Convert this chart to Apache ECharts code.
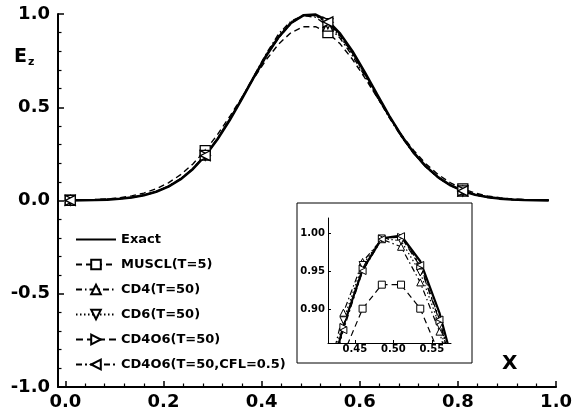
<!DOCTYPE html>
<html>
<head>
<meta charset="utf-8">
<script src="https://cdn.jsdelivr.net/npm/echarts@6/dist/echarts.min.js"></script>
<style>html,body{margin:0;padding:0;background:#fff}#c{width:575px;height:416px}</style>
</head>
<body>
<div id="c"></div>
<script>
// grid points (x)
var xGrid = [0.010,0.035,0.060,0.085,0.110,0.135,0.160,0.185,0.210,0.235,
             0.260,0.285,0.310,0.335,0.360,0.385,0.410,0.435,0.460,0.485,
             0.510,0.535,0.560,0.585,0.610,0.635,0.660,0.685,0.710,0.735,
             0.760,0.785,0.810,0.835,0.860,0.885,0.910,0.935,0.960,0.985];
var exactY = [0.0006,0.0013,0.0025,0.0049,0.0092,0.0164,0.0282,0.0468,0.0746,0.1145,
              0.1690,0.2401,0.3282,0.4317,0.5461,0.6650,0.7788,0.8777,0.9518,0.9931,
              0.9969,0.9629,0.8948,0.8001,0.6883,0.5698,0.4538,0.3478,0.2564,0.1819,
              0.1241,0.0815,0.0515,0.0313,0.0183,0.0103,0.0056,0.0029,0.0015,0.0007];
var musclY = [0.0013,0.0025,0.0047,0.0084,0.0146,0.0246,0.0399,0.0626,0.0948,0.1387,
              0.1962,0.2679,0.3535,0.4504,0.5544,0.6592,0.7571,0.8400,0.9003,0.9320,
              0.9320,0.9003,0.8400,0.7571,0.6592,0.5544,0.4504,0.3535,0.2679,0.1962,
              0.1387,0.0948,0.0626,0.0399,0.0246,0.0146,0.0084,0.0047,0.0025,0.0013];
var cd4Y   = [0.0006,0.0014,0.0026,0.0050,0.0094,0.0168,0.0290,0.0480,0.0765,0.1170,
              0.1720,0.2440,0.3330,0.4370,0.5520,0.6710,0.7900,0.8950,0.9620,0.9920,
              0.9820,0.9350,0.8700,0.7750,0.6690,0.5560,0.4440,0.3410,0.2520,0.1790,
              0.1225,0.0805,0.0510,0.0310,0.0182,0.0102,0.0055,0.0029,0.0015,0.0007];
var cd6Y   = [0.0006,0.0013,0.0025,0.0049,0.0093,0.0166,0.0286,0.0474,0.0755,0.1158,
              0.1705,0.2420,0.3305,0.4345,0.5490,0.6680,0.7850,0.8850,0.9580,0.9930,
              0.9900,0.9480,0.8780,0.7850,0.6770,0.5620,0.4480,0.3440,0.2540,0.1800,
              0.1230,0.0810,0.0512,0.0311,0.0182,0.0102,0.0055,0.0029,0.0015,0.0007];
var cd4o6Y = [0.0006,0.0013,0.0025,0.0049,0.0092,0.0165,0.0284,0.0470,0.0750,0.1150,
              0.1695,0.2405,0.3290,0.4325,0.5470,0.6660,0.7800,0.8760,0.9530,0.9930,
              0.9950,0.9560,0.8840,0.7900,0.6820,0.5660,0.4510,0.3460,0.2550,0.1810,
              0.1235,0.0812,0.0513,0.0312,0.0183,0.0103,0.0056,0.0029,0.0015,0.0007];
var cflY   = [0.0006,0.0013,0.0025,0.0049,0.0092,0.0164,0.0283,0.0469,0.0748,0.1148,
              0.1692,0.2402,0.3285,0.4320,0.5465,0.6655,0.7790,0.8720,0.9500,0.9920,
              0.9960,0.9580,0.8860,0.7920,0.6840,0.5670,0.4520,0.3470,0.2555,0.1815,
              0.1238,0.0813,0.0514,0.0313,0.0183,0.0103,0.0056,0.0029,0.0015,0.0007];
var markerIdx = [0, 11, 21, 32];
var xMajor = [0.0, 0.2, 0.4, 0.6, 0.8, 1.0];
var xMinor = [0.04,0.08,0.12,0.16,0.24,0.28,0.32,0.36,0.44,0.48,0.52,0.56,0.64,0.68,0.72,0.76,0.84,0.88,0.92,0.96];
var insetXTicks = [0.45, 0.50, 0.55];
var insetYTicks = [0.90, 0.95, 1.00];
var names = ['Exact','MUSCL(T=5)','CD4(T=50)','CD6(T=50)','CD4O6(T=50)','CD4O6(T=50,CFL=0.5)'];

var FONT = 'DejaVu Sans';
var triUp = 'path://M5,0 L10,9 L0,9 Z';
var triDown = 'path://M0,0 L10,0 L5,9 Z';
var triRight = 'path://M0,0 L9,5 L0,10 Z';
var triLeft = 'path://M9,0 L9,10 L0,5 Z';
var specs = [
  {name: names[0], y: exactY, sym: 'none', dash: 'solid', w: 2.6},
  {name: names[1], y: musclY, sym: 'rect', dash: [6,4], w: 1.4},
  {name: names[2], y: cd4Y, sym: triUp, dash: [6,3,1.5,3], w: 1.4},
  {name: names[3], y: cd6Y, sym: triDown, dash: [1.5,2.5], w: 1.4},
  {name: names[4], y: cd4o6Y, sym: triRight, dash: [7,4], w: 1.4},
  {name: names[5], y: cflY, sym: triLeft, dash: [6,3,2,3], w: 1.4}
];

function mainData(arr, sym) {
  return xGrid.map(function (x, i) {
    var on = sym !== 'none' && markerIdx.indexOf(i) >= 0;
    return {value: [x, arr[i]], symbol: on ? sym : 'none'};
  });
}
function insetData(arr) {
  return xGrid.map(function (x, i) { return [x, arr[i]]; });
}

var series = [];
specs.forEach(function (s) {
  var noSym = s.sym === 'none';
  series.push({
    name: s.name, type: 'line', xAxisIndex: 0, yAxisIndex: 0,
    data: mainData(s.y, s.sym),
    symbol: s.sym, symbolSize: 10, showSymbol: true, showAllSymbol: true,
    lineStyle: {color: '#000', width: s.w, type: s.dash},
    itemStyle: noSym ? {color: 'rgba(0,0,0,0)', borderColor: 'rgba(0,0,0,0)', borderWidth: 0}
                     : {color: '#fff', borderColor: '#000', borderWidth: 1.3},
    emphasis: {disabled: true}, animation: false, z: noSym ? 3 : 4
  });
});
specs.forEach(function (s) {
  series.push({
    name: s.name + ' inset', type: 'line', xAxisIndex: 2, yAxisIndex: 1,
    data: insetData(s.y),
    symbol: s.sym, symbolSize: 7, showSymbol: s.sym !== 'none', showAllSymbol: true,
    clip: true,
    lineStyle: {color: '#000', width: s.sym === 'none' ? 2.2 : 1.2, type: s.dash},
    itemStyle: {color: '#fff', borderColor: '#000', borderWidth: 1},
    emphasis: {disabled: true}, animation: false
  });
});

var chart = echarts.init(document.getElementById('c'), null, {renderer: 'canvas'});
chart.setOption({
  animation: false,
  backgroundColor: '#fff',
  grid: [
    {left: 58, right: 17, top: 14, bottom: 29},
    {left: 328, top: 218, width: 123, height: 125}
  ],
  xAxis: [
    {gridIndex: 0, type: 'value', min: -0.015, max: 1.0, position: 'bottom',
     axisLine: {show: true, onZero: false, lineStyle: {color: '#000', width: 2}},
     axisTick: {show: true, inside: true, length: 6, customValues: xMajor, lineStyle: {color: '#000', width: 1.5}},
     axisLabel: {show: true, customValues: xMajor, margin: 6, color: '#000', fontFamily: FONT, fontWeight: 'bold', fontSize: 18,
                 formatter: function (v) { return v.toFixed(1); }},
     splitLine: {show: false}},
    {gridIndex: 0, type: 'value', min: -0.015, max: 1.0, position: 'bottom',
     axisLine: {show: false, onZero: false},
     axisTick: {show: true, inside: true, length: 3.5, customValues: xMinor, lineStyle: {color: '#000', width: 1.2}},
     axisLabel: {show: false}, splitLine: {show: false}},
    {gridIndex: 1, type: 'value', min: 0.415, max: 0.575, position: 'bottom',
     axisLine: {show: true, onZero: false, lineStyle: {color: '#000', width: 1}},
     axisTick: {show: true, inside: true, length: 3, customValues: insetXTicks, lineStyle: {color: '#000', width: 1}},
     axisLabel: {show: true, customValues: insetXTicks, margin: 1, color: '#000', fontFamily: FONT, fontWeight: 'bold', fontSize: 10,
                 formatter: function (v) { return v.toFixed(2); }},
     splitLine: {show: false}}
  ],
  yAxis: [
    {gridIndex: 0, type: 'value', min: -1, max: 1, interval: 0.5,
     axisLine: {show: true, onZero: false, lineStyle: {color: '#000', width: 2}},
     axisTick: {show: true, inside: true, length: 6, lineStyle: {color: '#000', width: 1.5}},
     minorTick: {show: true, splitNumber: 5, length: 3.5, lineStyle: {color: '#000', width: 1.2}},
     axisLabel: {margin: 8, color: '#000', fontFamily: FONT, fontWeight: 'bold', fontSize: 18,
                 formatter: function (v) { return v.toFixed(1); }},
     splitLine: {show: false}},
    {gridIndex: 1, type: 'value', min: 0.855, max: 1.02,
     axisLine: {show: true, onZero: false, lineStyle: {color: '#000', width: 1}},
     axisTick: {show: true, inside: true, length: 3, customValues: insetYTicks, lineStyle: {color: '#000', width: 1}},
     axisLabel: {show: true, customValues: insetYTicks, margin: 3, color: '#000', fontFamily: FONT, fontWeight: 'bold', fontSize: 10,
                 formatter: function (v) { return v.toFixed(2); }},
     splitLine: {show: false}}
  ],
  legend: {
    orient: 'vertical', left: 70, top: 228, itemWidth: 40, itemHeight: 12, itemGap: 12,
    data: names, selectedMode: false,
    textStyle: {color: '#000', fontFamily: FONT, fontWeight: 'bold', fontSize: 13}
  },
  graphic: [
    {type: 'rect', shape: {x: 297, y: 203, width: 175, height: 160},
     style: {fill: 'none', stroke: '#000', lineWidth: 1}, z: 1, silent: true},
    {type: 'text', left: 14, top: 48,
     style: {text: '{e|E}{s|z}', rich: {
       e: {fontFamily: FONT, fontWeight: 'bold', fontSize: 19, fill: '#000'},
       s: {fontFamily: FONT, fontWeight: 'bold', fontSize: 11, fill: '#000', padding: [10, 0, 0, 1]}
     }}},
    {type: 'text', left: 502, top: 354,
     style: {text: 'X', fontFamily: FONT, fontWeight: 'bold', fontSize: 20, fill: '#000'}}
  ],
  series: series
});
</script>
</body>
</html>
